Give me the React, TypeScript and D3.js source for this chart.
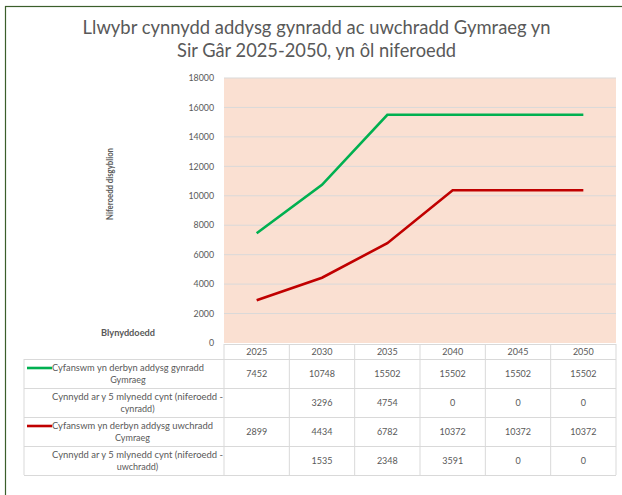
import React from "react";
import * as d3 from "d3";

const years = ["2025", "2030", "2035", "2040", "2045", "2050"];
const primaryTotal = [7452, 10748, 15502, 15502, 15502, 15502];
const primaryGrowth: (number | null)[] = [null, 3296, 4754, 0, 0, 0];
const secondaryTotal = [2899, 4434, 6782, 10372, 10372, 10372];
const secondaryGrowth: (number | null)[] = [null, 1535, 2348, 3591, 0, 0];
const yTicks = [0, 2000, 4000, 6000, 8000, 10000, 12000, 14000, 16000, 18000];
const titleLines = [
  "Llwybr cynnydd addysg gynradd ac uwchradd Gymraeg yn",
  "Sir Gâr 2025-2050, yn ôl niferoedd",
];
const rowLabels = [
  ["Cyfanswm yn derbyn addysg gynradd", "Gymraeg"],
  ["Cynnydd ar y 5 mlynedd cynt (niferoedd -", "cynradd)"],
  ["Cyfanswm yn derbyn addysg uwchradd", "Cymraeg"],
  ["Cynnydd ar y 5 mlynedd cynt (niferoedd -", "uwchradd)"],
];
const yAxisTitle = "Niferoedd disgyblion";
const xAxisTitle = "Blynyddoedd";

const GREEN = "#00b050";
const RED = "#c00000";
const TXT = "#595959";
const GRID = "#d9d9d9";
const FONT = "Lato, 'Open Sans', sans-serif";

export default function App() {
  const W = 622, H = 495;
  const left = 224, right = 616, top = 78, bottom = 343;
  const x = d3.scaleBand<string>().domain(years).range([left, right]).padding(0);
  const y = d3.scaleLinear().domain([0, 18000]).range([bottom, top]);
  const cx = (yr: string) => (x(yr) as number) + x.bandwidth() / 2;
  const line = d3
    .line<number>()
    .x((_, i) => cx(years[i]))
    .y((v) => y(v));

  const rows = [
    { label: rowLabels[0], values: primaryTotal as (number | null)[], key: GREEN, width: 152 },
    { label: rowLabels[1], values: primaryGrowth, key: null, width: 171 },
    { label: rowLabels[2], values: secondaryTotal as (number | null)[], key: RED, width: 161 },
    { label: rowLabels[3], values: secondaryGrowth, key: null, width: 171 },
  ];
  const headerTop = 344, headerBottom = 359, rowH = 29;
  const tableLeft = 24;
  const colEdges = years.map((yr) => x(yr) as number).concat([right]);

  return (
    <svg
      width={W}
      height={H}
      style={{ position: "absolute", left: 0, top: 0, background: "#fff" }}
      fontFamily={FONT}
    >
      <rect x={0} y={0} width={W} height={H} fill="#fff" />
      <rect x={5.5} y={6.5} width={700} height={700} fill="none" stroke="#3b5e2b" strokeWidth={1.2} />

      {/* title */}
      {titleLines.map((t, i) => (
        <text
          key={i}
          x={316.6}
          y={34 + i * 23}
          textAnchor="middle"
          fontSize={18.5}
          fill={TXT}
          textLength={i === 0 ? 468 : 279}
          lengthAdjust="spacingAndGlyphs"
        >
          {t}
        </text>
      ))}

      {/* plot area */}
      <rect x={left} y={top} width={right - left} height={bottom - top} fill="#fae0d2" />
      {yTicks.map((t) => (
        <g key={t}>
          {t > 0 && <line x1={left} x2={right} y1={y(t)} y2={y(t)} stroke={GRID} strokeWidth={1} />}
          <text x={214} y={y(t) + 3.2} textAnchor="end" fontSize={8.8} fill={TXT}>
            {t}
          </text>
        </g>
      ))}

      <path d={line(primaryTotal) || ""} fill="none" stroke={GREEN} strokeWidth={2.6} />
      <path d={line(secondaryTotal) || ""} fill="none" stroke={RED} strokeWidth={2.6} />

      {/* axis titles */}
      <text
        transform={`translate(113,184) rotate(-90)`}
        textAnchor="middle"
        fontSize={8.8}
        fontWeight="bold"
        fill={TXT}
        textLength={72}
        lengthAdjust="spacingAndGlyphs"
      >
        {yAxisTitle}
      </text>
      <text
        x={128}
        y={336}
        textAnchor="middle"
        fontSize={8.8}
        fontWeight="bold"
        fill={TXT}
        textLength={54}
        lengthAdjust="spacingAndGlyphs"
      >
        {xAxisTitle}
      </text>

      {/* data table */}
      <g stroke={GRID} strokeWidth={1}>
        <line x1={left} x2={right} y1={headerTop + 0.5} y2={headerTop + 0.5} />
        {colEdges.map((e, i) => (
          <line key={"hv" + i} x1={e} x2={e} y1={headerTop} y2={headerBottom} />
        ))}
        {d3.range(rows.length + 1).map((i) => (
          <line
            key={"h" + i}
            x1={tableLeft}
            x2={right}
            y1={headerBottom + i * rowH + 0.5}
            y2={headerBottom + i * rowH + 0.5}
          />
        ))}
        {[tableLeft, ...colEdges].map((e, i) => (
          <line key={"v" + i} x1={e} x2={e} y1={headerBottom} y2={headerBottom + rows.length * rowH} />
        ))}
      </g>
      {years.map((yr) => (
        <text key={yr} x={cx(yr)} y={headerBottom - 4.3} textAnchor="middle" fontSize={9} fill={TXT}>
          {yr}
        </text>
      ))}
      {rows.map((r, ri) => {
        const rt = headerBottom + ri * rowH;
        const mid = rt + rowH / 2;
        const startX = 52;
        return (
          <g key={ri}>
            {r.key && (
              <line x1={27} x2={52} y1={mid - 5.5} y2={mid - 5.5} stroke={r.key} strokeWidth={2.6} />
            )}
            <text
              x={startX}
              y={mid - 2.3}
              fontSize={9}
              fill={TXT}
              textLength={r.width}
              lengthAdjust="spacingAndGlyphs"
            >
              {r.label[0]}
            </text>
            <text x={startX + r.width / 2} y={mid + 9.3} textAnchor="middle" fontSize={9} fill={TXT}>
              {r.label[1]}
            </text>
            {r.values.map((v, i) =>
              v === null ? null : (
                <text key={i} x={cx(years[i])} y={mid + 3.3} textAnchor="middle" fontSize={9} fill={TXT}>
                  {v}
                </text>
              )
            )}
          </g>
        );
      })}
    </svg>
  );
}
